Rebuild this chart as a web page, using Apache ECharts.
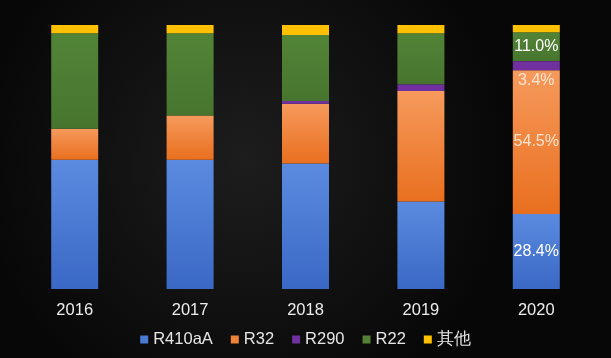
<!DOCTYPE html>
<html>
<head>
<meta charset="utf-8">
<script src="https://cdn.jsdelivr.net/npm/echarts@6/dist/echarts.min.js"></script>
<style>
html,body{margin:0;padding:0;background:#0c0c0c;}
#c{width:611px;height:358px;}
</style>
</head>
<body>
<div id="c"></div>
<script>
var years = ['2016', '2017', '2018', '2019', '2020'];
var seriesNames = ['R410aA', 'R32', 'R290', 'R22', '其他'];
var r410aA = [49.0, 49.0, 47.5, 33.1, 28.4];
var r32 = [11.7, 16.7, 22.7, 41.9, 54.5];
var r290 = [0, 0, 1.0, 2.5, 3.4];
var r22 = [36.2, 31.2, 25.0, 19.4, 11.0];
var other = [3.1, 3.1, 3.8, 3.1, 2.7];
var labeledYear = '2020';

var FONT = '"Liberation Sans", Arial, sans-serif';
function grad(top, bottom) {
  return {type: 'linear', x: 0, y: 0, x2: 0, y2: 1,
    colorStops: [{offset: 0, color: top}, {offset: 1, color: bottom}]};
}
var solid = ['#4a7bd4', '#ef8236', '#7030a0', '#548235', '#ffc000'];
var fills = [
  grad('#5b8be0', '#3a68c5'),
  grad('#f69a5c', '#e96f1f'),
  '#7030a0',
  grad('#528437', '#47752f'),
  '#ffc000'
];
var labelCfg = [
  {show: true, position: 'inside', color: '#ffffff'},
  {show: true, position: 'inside', color: '#fde3cf'},
  {show: true, position: 'bottom', distance: 2, color: '#fde3cf'},
  {show: true, position: 'inside', color: '#ffffff'},
  {show: false}
];
var dataSets = [r410aA, r32, r290, r22, other];

var series = seriesNames.map(function (n, i) {
  var lc = labelCfg[i];
  return {
    name: n,
    type: 'bar',
    stack: 'total',
    barWidth: 47,
    data: dataSets[i],
    itemStyle: {color: fills[i]},
    label: Object.assign({
      fontSize: 16,
      fontFamily: FONT,
      formatter: function (p) { return p.name === labeledYear ? p.value.toFixed(1) + '%' : ''; }
    }, lc),
    z: i === 2 ? 3 : 2
  };
});

var chart = echarts.init(document.getElementById('c'), null, {renderer: 'canvas'});
chart.setOption({
  backgroundColor: {
    type: 'radial', x: 0.4, y: 0.45, r: 0.75,
    colorStops: [{offset: 0, color: '#1d1d1d'}, {offset: 1, color: '#070707'}]
  },
  animation: false,
  grid: {left: 17, right: 17, top: 25, bottom: 69},
  legend: {
    bottom: 5,
    left: 'center',
    icon: 'rect',
    itemWidth: 8,
    itemHeight: 8,
    itemGap: 18,
    textStyle: {color: '#e6e6e6', fontSize: 16.5, fontFamily: FONT},
    data: seriesNames.map(function (n, i) { return {name: n, itemStyle: {color: solid[i]}}; })
  },
  xAxis: {
    type: 'category',
    data: years,
    axisLine: {show: false},
    axisTick: {show: false},
    axisLabel: {color: '#ececec', fontSize: 16.5, fontFamily: FONT, margin: 13}
  },
  yAxis: {
    type: 'value', min: 0, max: 100, show: false,
    splitLine: {show: false}
  },
  series: series
});
</script>
</body>
</html>
